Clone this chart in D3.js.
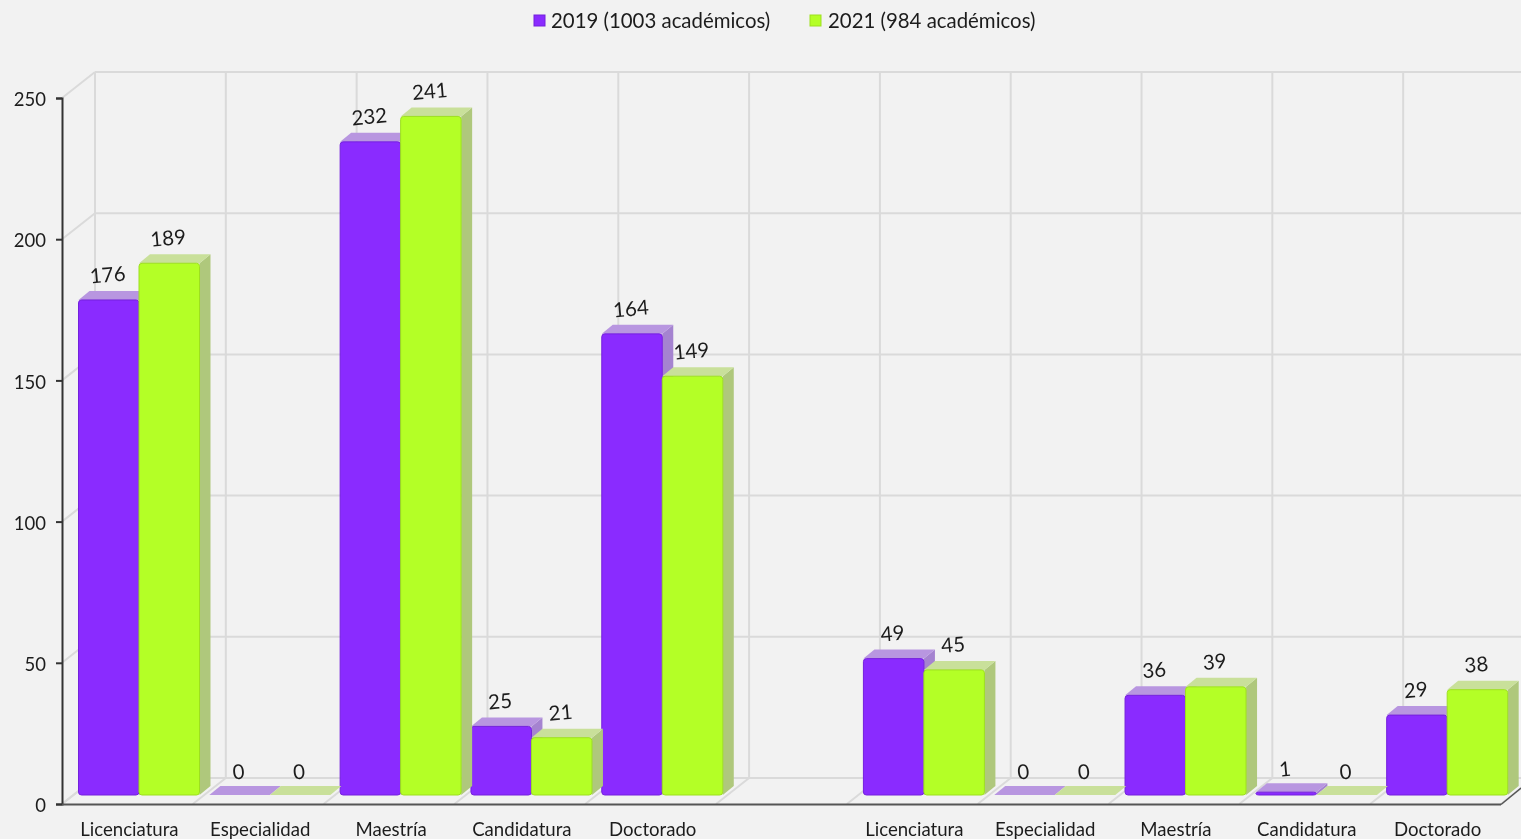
<!DOCTYPE html>
<html>
<head>
<meta charset="utf-8">
<script src="https://cdn.jsdelivr.net/npm/d3@7"></script>
<style>
html, body { margin: 0; padding: 0; background: #f2f2f2; overflow: hidden; }
svg { display: block; filter: blur(0.35px); }
text { font-family: Lato, "Open Sans", sans-serif; fill: #1c1c1c; }
</style>
</head>
<body>
<script>
// categorie: la posizione vuota separa i due gruppi di barre
var categories = ["Licenciatura", "Especialidad", "Maestría", "Candidatura", "Doctorado", "",
                  "Licenciatura", "Especialidad", "Maestría", "Candidatura", "Doctorado"];
var values2019 = [176, 0, 232, 25, 164, null, 49, 0, 36, 1, 29];
var values2021 = [189, 0, 241, 21, 149, null, 45, 0, 39, 0, 38];
var seriesNames = ["2019 (1003 académicos)", "2021 (984 académicos)"];
var yTicks = [0, 50, 100, 150, 200, 250];

var colors = [
    {front: "#8a2bff", edge: "#7420dc", top: "#b896e0", side: "#a583d0"},
    {front: "#b4ff26", edge: "#9ddf1f", top: "#c9e09a", side: "#afc87c"}
];

var totalWidth = 1521;
var totalHeight = 839;

// profondità delle pareti e delle barre
var wallX = 33, wallY = 26;
var barX = 11, barY = 9;

var svg = d3.select("body").append("svg")
    .attr("width", totalWidth)
    .attr("height", totalHeight);

var scaleY = d3.scaleLinear().domain([0, 250]).range([804, 98]);
var slots = d3.scaleBand().domain(d3.range(categories.length)).range([62, 1501]);
var inner = d3.scaleBand().domain([0, 1]).range([0, 121]);

// griglia: parete di fondo, parete sinistra e pavimento
var grid = svg.append("g").attr("stroke", "#dadada").attr("stroke-width", 2).attr("fill", "none");

yTicks.forEach(function(t) {
    var y = scaleY(t);
    grid.append("line").attr("x1", 62 + wallX).attr("x2", totalWidth).attr("y1", y - wallY).attr("y2", y - wallY);
    grid.append("line").attr("x1", 62).attr("x2", 62 + wallX).attr("y1", y).attr("y2", y - wallY);
});

d3.range(categories.length + 1).forEach(function(i) {
    var x = 62 + i * slots.step();
    if (i < categories.length) {
        grid.append("line").attr("x1", x + wallX).attr("x2", x + wallX)
            .attr("y1", scaleY(250) - wallY).attr("y2", scaleY(0) - wallY);
    }
    grid.append("line").attr("x1", x).attr("x2", x + wallX).attr("y1", scaleY(0)).attr("y2", scaleY(0) - wallY);
});

// barre: le facce alte sono 2px più basse della scala, come nel grafico originale
function drawBars(values, s) {
    var c = colors[s];
    var g = svg.append("g");
    values.forEach(function(v, i) {
        if (v === null) return;
        var x0 = slots(i) + barX + 5.5 + inner(s);
        var w = inner.bandwidth();
        var base = scaleY(0) - barY;
        var top = v > 1 ? scaleY(v) - barY + 2 : scaleY(v) - barY;

        // lato destro
        g.append("path")
            .attr("d", "M" + (x0 + w) + "," + top + "L" + (x0 + w + barX) + "," + (top - barY) +
                "L" + (x0 + w + barX) + "," + (base - barY) + "L" + (x0 + w) + "," + base + "Z")
            .attr("fill", c.side);
        // faccia superiore
        g.append("path")
            .attr("d", "M" + x0 + "," + top + "L" + (x0 + barX) + "," + (top - barY) +
                "L" + (x0 + w + barX) + "," + (top - barY) + "L" + (x0 + w) + "," + top + "Z")
            .attr("fill", c.top);
        // faccia frontale
        if (v > 0) {
            g.append("rect")
                .attr("x", x0).attr("y", top)
                .attr("width", w).attr("height", base - top)
                .attr("rx", 3)
                .attr("fill", c.front)
                .attr("stroke", c.edge)
                .attr("stroke-width", 1);
        }
    });
}
drawBars(values2019, 0);
drawBars(values2021, 1);

// etichette dei valori, leggermente inclinate
function drawLabels(values, s) {
    values.forEach(function(v, i) {
        if (v === null) return;
        var x = slots(i) + barX + 5.5 + inner(s) + inner.bandwidth() / 2 - 0.5;
        var y = scaleY(v) - barY - 16;
        svg.append("text")
            .attr("transform", "translate(" + x + "," + y + ") rotate(-5)")
            .attr("text-anchor", "middle")
            .attr("font-size", 20.5)
            .text(v);
    });
}
drawLabels(values2019, 0);
drawLabels(values2021, 1);

// assi
var yAxis = d3.axisLeft(scaleY).tickValues(yTicks).tickSize(6).tickPadding(10);
var gy = svg.append("g").attr("transform", "translate(62,0)").call(yAxis);
gy.select(".domain").attr("stroke", "#333").attr("stroke-width", 2);
gy.selectAll(".tick line").attr("stroke", "#333").attr("stroke-width", 2);
gy.selectAll(".tick text").attr("font-size", 18.5).attr("font-family", "Lato").attr("dy", "0.42em").style("fill", "#1c1c1c");

var xAxis = d3.axisBottom(slots).tickSize(0).tickPadding(19)
    .tickFormat(function(i) { return categories[i]; });
var gx = svg.append("g").attr("transform", "translate(2,804)").call(xAxis);
gx.select(".domain").attr("stroke", "none");
gx.selectAll(".tick text").attr("font-size", 18.6).attr("font-family", "Lato").style("fill", "#1c1c1c");

svg.append("line")
    .attr("x1", 62).attr("x2", 1501).attr("y1", 804.5).attr("y2", 804.5)
    .attr("stroke", "#555").attr("stroke-width", 2);
svg.append("line")
    .attr("x1", 1501).attr("x2", 1521).attr("y1", 804.5).attr("y2", 788)
    .attr("stroke", "#555").attr("stroke-width", 1.5);

// legenda
var legendX = [534, 810];
seriesNames.forEach(function(name, s) {
    svg.append("rect")
        .attr("x", legendX[s]).attr("y", 15)
        .attr("width", 11).attr("height", 11)
        .attr("fill", colors[s].front)
        .attr("stroke", colors[s].edge);
    svg.append("text")
        .attr("x", legendX[s] + 17 + (s == 1 ? 1 : 0)).attr("y", 28)
        .attr("font-size", 20.4)
        .text(name);
});
</script>
</body>
</html>
